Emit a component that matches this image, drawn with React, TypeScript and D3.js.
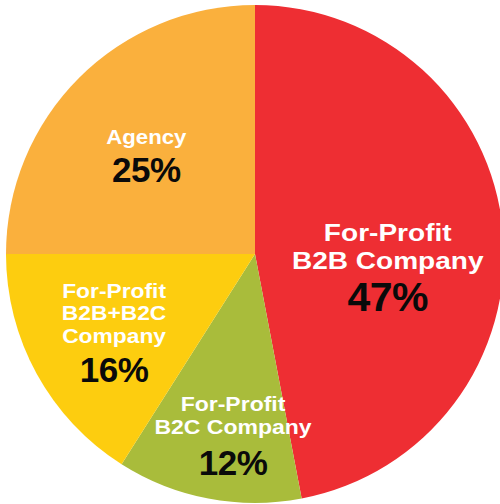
import React, { useMemo } from "react";
import * as d3 from "d3";

const WIDTH = 500;
const HEIGHT = 504;
const CENTER = { x: 255, y: 254 };
const RADIUS = 249;

// slices, clockwise from 12 o'clock
const categories = ["B2B", "B2C", "B2B+B2C", "Agency"];
const shares = [47, 12, 16, 25];
const labelLines = [
  ["For-Profit", "B2B Company"],
  ["For-Profit", "B2C Company"],
  ["For-Profit", "B2B+B2C", "Company"],
  ["Agency"],
];
const colors = ["#EE2E33", "#A9BC3B", "#FDCD0F", "#FAB03D"];

// label layout: nudge from the arc centroid, font sizes, horizontal stretch of the names
const LABEL_RADIUS = 0.6;
const NUDGE: [number, number][] = [
  [-16, 71],
  [6, 74],
  [-10, 56],
  [-3, 34],
];
const NAME_SIZE = [23, 20, 20, 20];
const NAME_LINE = [28, 22.5, 22.5, 22];
const NAME_STRETCH = [1.22, 1.15, 1.14, 1.11];
const PCT_SIZE = [41, 35, 35, 35];
const PCT_GAP = [42, 41, 39, 38];
const FONT = "'Liberation Sans', Arial, Helvetica, sans-serif";

export default function App() {
  const data = categories.map((c, i) => ({ name: c, value: shares[i], i }));

  const arcs = useMemo(() => {
    return d3
      .pie<{ name: string; value: number; i: number }>()
      .sort(null)
      .value((d) => d.value)
      .startAngle(0)
      .endAngle(2 * Math.PI)(data);
  }, []);

  const arcGen = d3
    .arc<d3.PieArcDatum<{ name: string; value: number; i: number }>>()
    .innerRadius(0)
    .outerRadius(RADIUS);

  const labelArc = d3
    .arc<d3.PieArcDatum<{ name: string; value: number; i: number }>>()
    .innerRadius(RADIUS * LABEL_RADIUS)
    .outerRadius(RADIUS * LABEL_RADIUS);

  const slices = arcs.map((a) => (
    <path key={a.data.name} d={arcGen(a) || ""} fill={colors[a.data.i]} />
  ));

  const labels = arcs.map((a) => {
    const i = a.data.i;
    const [cx, cy] = labelArc.centroid(a);
    const x = cx + NUDGE[i][0];
    // y = baseline of the percentage
    const y = cy + NUDGE[i][1];
    const lines = labelLines[i];
    return (
      <g key={a.data.name}>
        <g transform={`translate(${x},0) scale(${NAME_STRETCH[i]},1)`}>
          {lines.map((line, j) => (
            <text
              key={j}
              x={0}
              y={y - PCT_GAP[i] - (lines.length - 1 - j) * NAME_LINE[i]}
              textAnchor="middle"
              fontFamily={FONT}
              fontWeight="bold"
              fontSize={NAME_SIZE[i]}
              fill="#fff"
            >
              {line}
            </text>
          ))}
        </g>
        <text
          x={x}
          y={y}
          textAnchor="middle"
          fontFamily={FONT}
          fontWeight="bold"
          fontSize={PCT_SIZE[i]}
          letterSpacing={-0.5}
          fill="#0a0a0a"
        >
          {a.data.value}%
        </text>
      </g>
    );
  });

  return (
    <svg
      width={WIDTH}
      height={HEIGHT}
      style={{ position: "absolute", left: 0, top: 0, display: "block" }}
    >
      <rect width={WIDTH} height={HEIGHT} fill="#fff" />
      <g transform={`translate(${CENTER.x},${CENTER.y})`}>
        {slices}
        {labels}
      </g>
    </svg>
  );
}
